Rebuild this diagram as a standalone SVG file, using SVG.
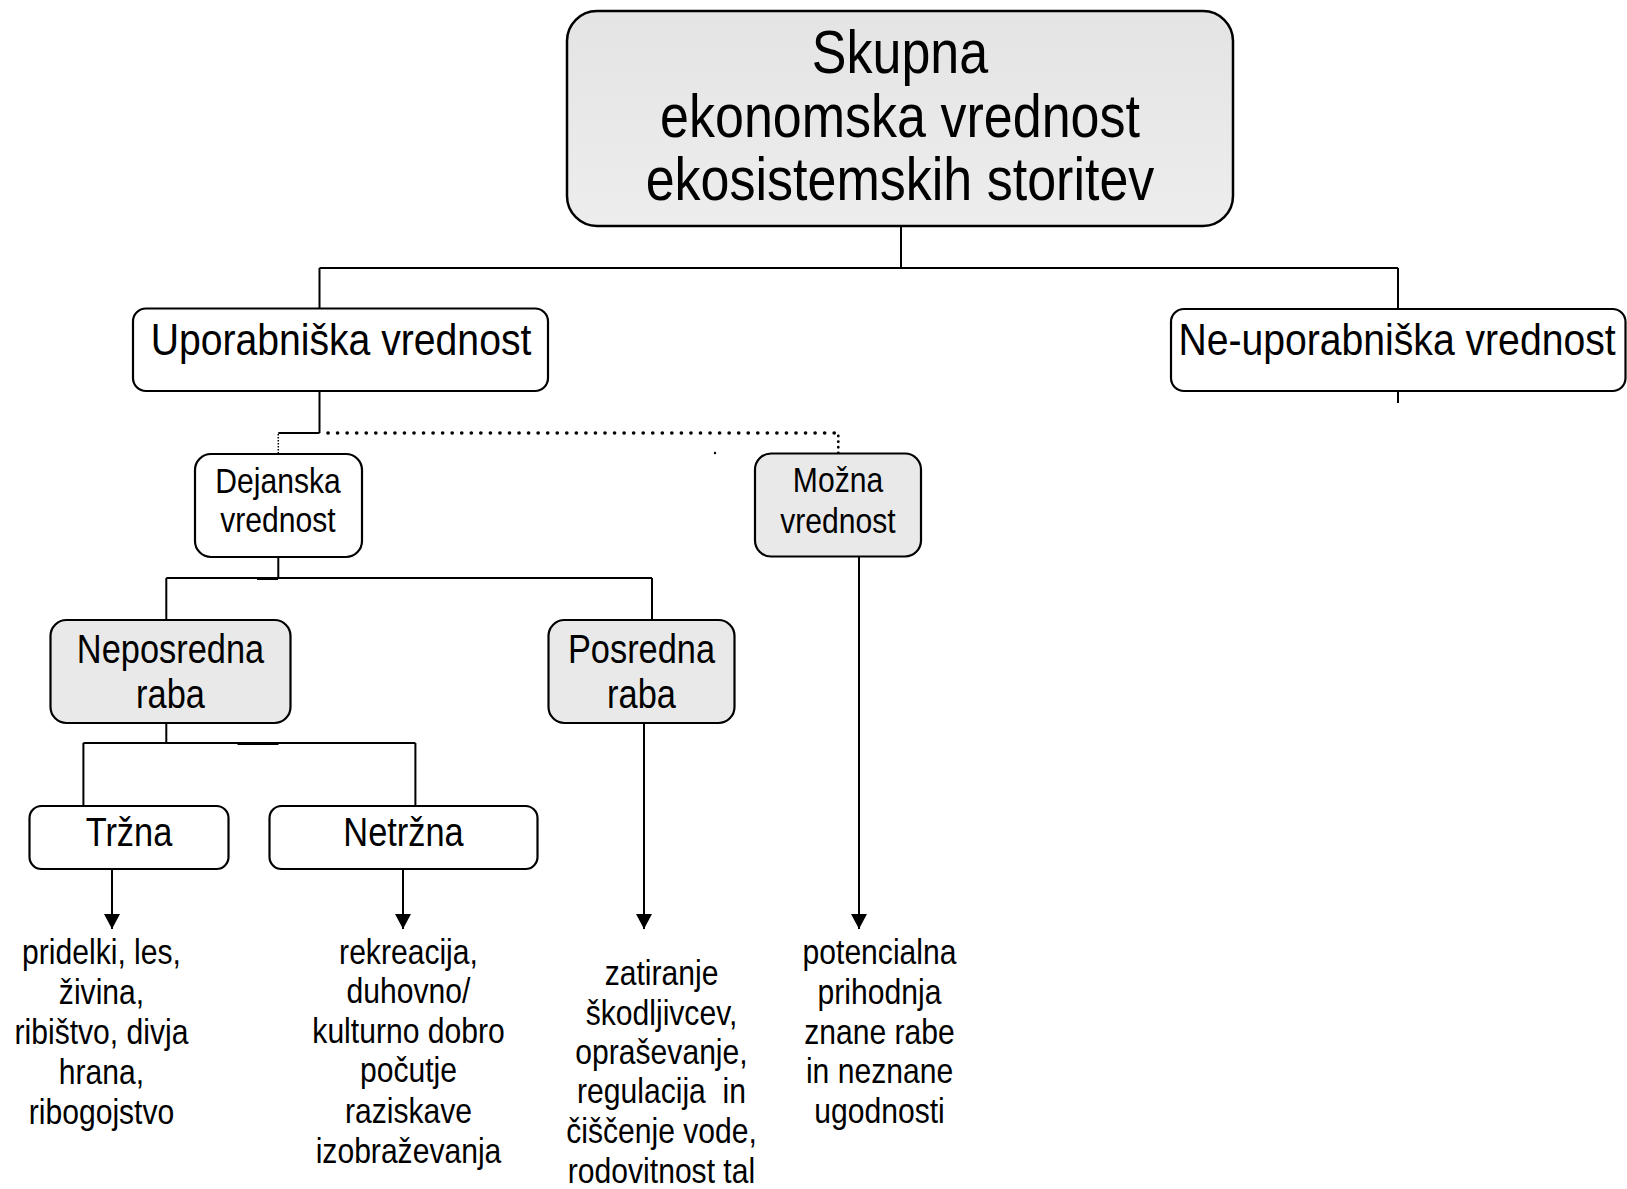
<svg xmlns="http://www.w3.org/2000/svg" width="1627" height="1189" viewBox="0 0 1627 1189">
<style>
  .box { fill: #ffffff; stroke: #000; stroke-width: 2.2; }
  .gray { fill: #e9e9e9; }
  .t { font-family: "Liberation Sans", Arial, sans-serif; fill: #000; text-anchor: middle; }
  .ln { stroke: #000; stroke-width: 2; fill: none; }
</style>
<defs>
  <linearGradient id="topg" x1="0" y1="0" x2="0" y2="1">
    <stop offset="0" stop-color="#e4e4e4"/>
    <stop offset="1" stop-color="#ededed"/>
  </linearGradient>
  <marker id="arr" markerUnits="userSpaceOnUse" markerWidth="17" markerHeight="17" refX="15" refY="8" orient="auto">
    <path d="M0,0 L15,8 L0,16 z" fill="#000"/>
  </marker>
</defs>

<g id="connectors">
  <path class="ln" d="M901,226 V268 M319.5,268 H1398 M319.5,268 V309 M1398,268 V309"/>
  <path class="ln" d="M1398,391 V403"/>
  <path class="ln" d="M319.5,391 V433"/>
  <path class="ln" stroke-width="3" d="M278.3,433 H319.5"/>
  <path d="M328,433 H838" stroke="#000" stroke-width="3.6" stroke-linecap="round" stroke-dasharray="0.1 9.45" fill="none"/>
  <path d="M838.3,436 V453" stroke="#000" stroke-width="2.8" stroke-linecap="round" stroke-dasharray="0.1 5.5" fill="none"/>
  <path d="M278.3,434 V453" stroke="#000" stroke-width="1.5" stroke-dasharray="1.5 1.5" fill="none"/>
  <circle cx="715" cy="453" r="1.2" fill="#000"/>
  <path class="ln" d="M278.3,557 V578 M166.3,578 H652 M166.3,578 V620 M652,578 V620"/>
  <path class="ln" stroke-width="3" d="M257,579 H278"/>
  <path class="ln" d="M166.3,723 V743 M83.4,743 H415.4 M83.4,743 V806 M415.4,743 V806"/>
  <path class="ln" stroke-width="3" d="M237.5,744 H278.5"/>
  <path class="ln" marker-end="url(#arr)" d="M112,869 V929"/>
  <path class="ln" marker-end="url(#arr)" d="M403,869 V929"/>
  <path class="ln" marker-end="url(#arr)" d="M644,723 V929"/>
  <path class="ln" marker-end="url(#arr)" d="M859,557 V929"/>
</g>

<g id="skupna">
  <rect x="567" y="11" width="666" height="215" rx="30" ry="30" fill="url(#topg)" stroke="#000" stroke-width="2.5"/>
  <g transform="translate(900,0) scale(0.86,1)">
    <text class="t" x="0" y="73" font-size="60.5">Skupna</text>
    <text class="t" x="0" y="137" font-size="60.5">ekonomska vrednost</text>
    <text class="t" x="0" y="200" font-size="60.5">ekosistemskih storitev</text>
  </g>
</g>

<g id="uporabniska">
  <rect class="box" x="133" y="308.5" width="415" height="82.5" rx="13" ry="13"/>
  <g transform="translate(341,0) scale(0.87,1)">
    <text class="t" x="0" y="355" font-size="45">Uporabniška vrednost</text>
  </g>
</g>

<g id="ne-uporabniska">
  <rect class="box" x="1171" y="309" width="454.5" height="82" rx="13" ry="13"/>
  <g transform="translate(1397,0) scale(0.87,1)">
    <text class="t" x="0" y="355" font-size="45">Ne-uporabniška vrednost</text>
  </g>
</g>

<g id="dejanska">
  <rect class="box" x="195" y="454" width="167" height="103" rx="16" ry="16"/>
  <g transform="translate(278,0) scale(0.86,1)">
    <text class="t" x="0" y="493" font-size="35">Dejanska</text>
    <text class="t" x="0" y="532" font-size="35">vrednost</text>
  </g>
</g>

<g id="mozna">
  <rect class="box gray" x="755" y="453.5" width="166" height="103" rx="16" ry="16"/>
  <g transform="translate(838,0) scale(0.86,1)">
    <text class="t" x="0" y="492" font-size="35">Možna</text>
    <text class="t" x="0" y="533" font-size="35">vrednost</text>
  </g>
</g>

<g id="neposredna">
  <rect class="box gray" x="50.5" y="620" width="240" height="103" rx="16" ry="16"/>
  <g transform="translate(170.5,0) scale(0.86,1)">
    <text class="t" x="0" y="663.5" font-size="40">Neposredna</text>
    <text class="t" x="0" y="708.5" font-size="40">raba</text>
  </g>
</g>

<g id="posredna">
  <rect class="box gray" x="548.5" y="620" width="186" height="103" rx="16" ry="16"/>
  <g transform="translate(641.5,0) scale(0.86,1)">
    <text class="t" x="0" y="663.5" font-size="40">Posredna</text>
    <text class="t" x="0" y="708.5" font-size="40">raba</text>
  </g>
</g>

<g id="trzna">
  <rect class="box" x="29.5" y="806" width="199" height="63" rx="12" ry="12"/>
  <g transform="translate(129,0) scale(0.86,1)">
    <text class="t" x="0" y="846.5" font-size="40">Tržna</text>
  </g>
</g>

<g id="netrzna">
  <rect class="box" x="269.5" y="806" width="268" height="63" rx="12" ry="12"/>
  <g transform="translate(403.5,0) scale(0.86,1)">
    <text class="t" x="0" y="846.5" font-size="40">Netržna</text>
  </g>
</g>

<g id="trzna-primeri">
  <g transform="translate(101.5,0) scale(0.86,1)">
    <text class="t" x="0" y="964" font-size="35">pridelki, les,</text>
    <text class="t" x="0" y="1004" font-size="35">živina,</text>
    <text class="t" x="0" y="1044" font-size="35">ribištvo, divja</text>
    <text class="t" x="0" y="1084" font-size="35">hrana,</text>
    <text class="t" x="0" y="1124" font-size="35">ribogojstvo</text>
  </g>
</g>

<g id="netrzna-primeri">
  <g transform="translate(408.5,0) scale(0.86,1)">
    <text class="t" x="0" y="964" font-size="35">rekreacija,</text>
    <text class="t" x="0" y="1003" font-size="35">duhovno/</text>
    <text class="t" x="0" y="1043" font-size="35">kulturno dobro</text>
    <text class="t" x="0" y="1082" font-size="35">počutje</text>
    <text class="t" x="0" y="1123" font-size="35">raziskave</text>
    <text class="t" x="0" y="1163" font-size="35">izobraževanja</text>
  </g>
</g>

<g id="posredna-primeri">
  <g transform="translate(661.5,0) scale(0.86,1)">
    <text class="t" x="0" y="985.5" font-size="35">zatiranje</text>
    <text class="t" x="0" y="1025" font-size="35">škodljivcev,</text>
    <text class="t" x="0" y="1064" font-size="35">opraševanje,</text>
    <text class="t" x="0" y="1103" font-size="35" xml:space="preserve">regulacija  in</text>
    <text class="t" x="0" y="1143" font-size="35">čiščenje vode,</text>
    <text class="t" x="0" y="1183" font-size="35">rodovitnost tal</text>
  </g>
</g>

<g id="mozna-primeri">
  <g transform="translate(879.5,0) scale(0.86,1)">
    <text class="t" x="0" y="964" font-size="35">potencialna</text>
    <text class="t" x="0" y="1004" font-size="35">prihodnja</text>
    <text class="t" x="0" y="1044" font-size="35">znane rabe</text>
    <text class="t" x="0" y="1083" font-size="35">in neznane</text>
    <text class="t" x="0" y="1123" font-size="35">ugodnosti</text>
  </g>
</g>
</svg>
